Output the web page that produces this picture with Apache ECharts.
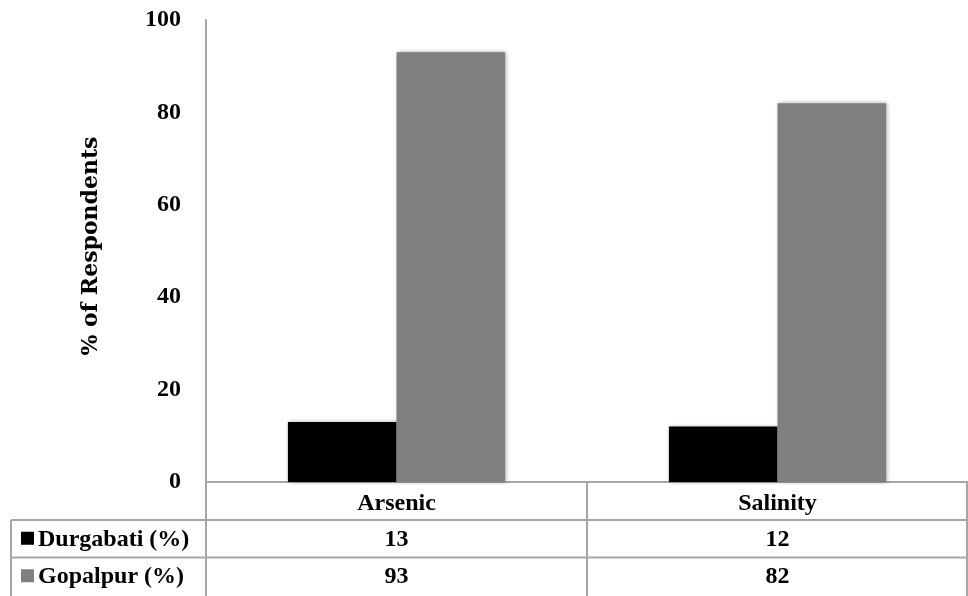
<!DOCTYPE html>
<html><head><meta charset="utf-8">
<script src="https://cdn.jsdelivr.net/npm/echarts@6/dist/echarts.min.js"></script>
<style>html,body{margin:0;padding:0;background:#fff}#c{width:968px;height:596px}</style>
</head><body><div id="c"></div>
<script>
const categories = ['Arsenic', 'Salinity'];
const durgabati = [13, 12];
const gopalpur = [93, 82];
const seriesNames = ['Durgabati (%)', 'Gopalpur (%)'];
const seriesColors = ['#000000', '#7f7f7f'];
const yTicks = [0, 20, 40, 60, 80, 100];

const FONT = 'Liberation Serif';
const FS = 24;
const chart = echarts.init(document.getElementById('c'));
const gridL = 206, gridT = 20, gridB = 114;
const lineColor = '#a6a6a6';
const option = {
  animation: false,
  grid: {left: gridL, right: 0, top: gridT, bottom: gridB},
  xAxis: {
    type: 'category', data: categories,
    axisLine: {lineStyle: {color: lineColor, width: 2}},
    axisTick: {show: true, length: 114, inside: false, lineStyle: {color: lineColor, width: 2}},
    axisLabel: {margin: 10, fontFamily: FONT, fontWeight: 'bold', fontSize: FS, color: '#000'}
  },
  yAxis: {
    type: 'value', min: 0, max: 100, interval: 20,
    name: '% of Respondents', nameLocation: 'middle', nameGap: 104, nameRotate: 90,
    nameTextStyle: {fontFamily: 'DejaVu Serif', fontWeight: 'bold', fontSize: 22, color: '#000', padding: [0, 0, 0, 10]},
    axisLine: {show: true, lineStyle: {color: lineColor, width: 2}},
    axisTick: {show: false},
    splitLine: {show: false},
    axisLabel: {margin: 25, fontFamily: FONT, fontWeight: 'bold', fontSize: FS, color: '#000',
      formatter: v => yTicks.includes(v) ? String(v) : ''}
  },
  series: [
    {name: seriesNames[0], type: 'bar', data: durgabati, barGap: '0%', barCategoryGap: '43%',
     itemStyle: {color: seriesColors[0], shadowColor: 'rgba(0,0,0,0.35)', shadowBlur: 4, shadowOffsetX: 1, shadowOffsetY: 0}},
    {name: seriesNames[1], type: 'bar', data: gopalpur, barGap: '0%', barCategoryGap: '43%',
     itemStyle: {color: seriesColors[1], shadowColor: 'rgba(0,0,0,0.35)', shadowBlur: 4, shadowOffsetX: 1, shadowOffsetY: 0}}
  ]
};
chart.setOption(option);

// data table below the axis
const y0 = chart.convertToPixel({yAxisIndex: 0}, 0);
const rowH = 37.5;
const left = 11, right = 967;
const g = [];
const hline = (y, x1) => ({type: 'line', shape: {x1: x1, y1: y, x2: right, y2: y}, style: {stroke: lineColor, lineWidth: 2}, silent: true});
const vline = (x, y1, y2) => ({type: 'line', shape: {x1: x, y1: y1, x2: x, y2: y2}, style: {stroke: lineColor, lineWidth: 2}, silent: true});
const r1 = y0 + 38, r2 = r1 + rowH;
g.push(hline(r1, left));
g.push(hline(r2, left));
g.push(vline(left, r1, 596));
g.push(vline(right, y0, 596));
const rows = [durgabati, gopalpur];
rows.forEach((vals, ri) => {
  const cy = r1 + rowH * ri + rowH / 2;
  g.push({type: 'rect', shape: {x: 21, y: cy - 7, width: 13, height: 13}, style: {fill: seriesColors[ri]}, silent: true});
  g.push({type: 'text', style: {x: 38, y: cy + 1, text: seriesNames[ri], fontFamily: FONT, fontWeight: 'bold', fontSize: FS, fill: '#000', verticalAlign: 'middle', align: 'left'}, silent: true});
  vals.forEach((v, ci) => {
    const cx = chart.convertToPixel({xAxisIndex: 0}, ci);
    g.push({type: 'text', style: {x: cx, y: cy + 1, text: String(v), fontFamily: FONT, fontWeight: 'bold', fontSize: FS, fill: '#000', verticalAlign: 'middle', align: 'center'}, silent: true});
  });
});
chart.setOption({graphic: g});
</script></body></html>
